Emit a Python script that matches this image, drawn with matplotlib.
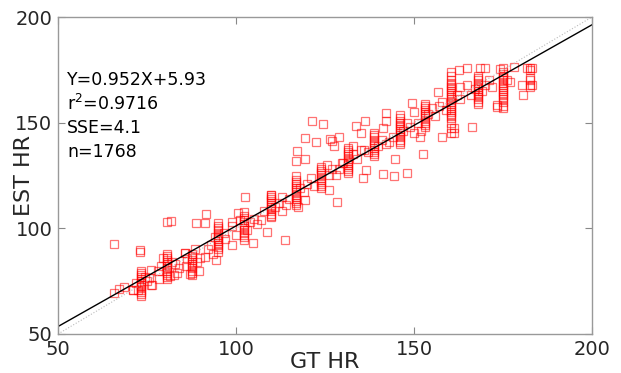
import matplotlib
matplotlib.use("Agg")
import matplotlib.pyplot as plt

# ---- data ----
stripe_gt = [73.3, 80.6, 87.6, 95.0, 102.2, 109.8, 116.9, 124.0,
             131.5, 138.7, 146.0, 153.0, 160.5, 168.0, 175.0, 182.5]
stripe_est = [
    [68, 69, 70, 71, 72, 72.5, 73, 74, 75, 76, 77, 78, 79, 80],
    [76, 77, 78, 79, 80, 81, 82, 83, 84, 85, 86, 87, 88],
    [78, 79, 80, 81, 82, 83, 84, 85, 86, 87, 88],
    [89, 90, 91, 92, 93, 94, 95, 96, 97, 98, 99, 100, 101, 102.5],
    [94.5, 96, 97, 98, 99, 100, 101, 102, 103, 104, 105, 106, 107.5],
    [105.5, 106, 107, 108, 109, 110, 111, 112, 113, 114, 115, 116],
    [111, 112, 113, 114, 115, 116, 117, 118, 119, 120, 121, 122, 123, 124.8, 131.9],
    [119, 120, 121, 122, 123, 124, 125, 126, 127, 128, 129],
    [126, 127, 128, 129, 130, 131, 132, 133, 134, 135, 136, 137, 138],
    [134, 135, 136, 137, 138, 139, 140, 141, 142, 143, 144, 145],
    [140, 141, 142, 143, 144, 145, 146, 147, 148, 149, 150, 151, 152, 153.5],
    [148, 149, 150, 151, 152, 153, 154, 155, 156, 157, 158, 159],
    [145, 147.5, 150, 152, 153, 154, 155, 156, 157, 158, 159, 160, 161, 162,
     163, 164, 165, 166, 167, 168, 169, 170, 172, 174],
    [159, 160, 161, 162, 163, 164, 165, 166, 167, 168, 169, 170, 171, 172],
    [157, 158, 160, 161, 162, 163, 164, 165, 166, 167, 168, 169, 170, 171,
     172, 173, 174, 176],
    [167, 168, 170, 171, 175, 176],
]

spread_gt = [71, 72, 75, 76, 76.4, 74.5, 72.5, 75.5, 76.1,
             78, 79, 82, 83, 84, 82.5, 79.5, 83.5, 78.5, 81.5,
             85.7, 86.2, 87.1, 89, 90, 88.5, 86, 89.5,
             93, 94, 96.5, 97, 93.5, 94.4, 91.3, 92, 98.9,
             100, 101, 104, 104.8, 103, 99, 105, 100.6, 98.9,
             107, 108, 111, 112, 108.7, 106, 113, 113.8,
             115, 118, 119, 114, 119.4, 120, 113, 117.5, 117, 119.5,
             122, 126, 127, 121, 125.5, 128.4, 126,
             129, 130, 133, 134, 129.8, 132.9, 128, 135,
             137, 140, 141, 136, 142, 135.7, 136.5, 141.3,
             144, 147, 148, 143, 149, 144.7, 144.4, 148, 150,
             151, 154, 155, 152, 156, 150, 152.5, 151.7, 157.9,
             158, 159, 162, 163, 157, 161.2, 161.2, 156.7, 163,
             166, 167, 170, 169, 166.3, 171, 165,
             173.3, 173.3, 177, 174.2, 172, 176,
             180.3, 183.1, 180.6, 181.7, 183.1, 178.1]
spread_est = [70.8, 74, 75, 73, 73.2, 77, 71, 76.5, 80.3,
              80, 82, 84, 83, 81, 78, 86, 79, 76, 77.5,
              88.3, 85.5, 78.4, 84, 86, 90, 82, 80,
              92, 96, 98, 95, 88, 85, 86.4, 90, 92.1,
              97, 104, 103, 93, 99, 101, 104.5, 107.3, 103,
              104, 108, 110, 112, 98.3, 102, 108, 94.5,
              114, 119, 117, 111, 113.4, 121, 115, 110, 136.6, 132.8,
              120, 125, 128, 124, 130, 112.5, 118,
              128, 131, 135, 133, 130.9, 139, 125, 137,
              136, 139, 142, 137, 140, 123.8, 127.6, 125.7,
              143, 146, 150, 141, 148, 132.8, 124.8, 126.2, 145,
              150, 154, 157, 146, 153, 155, 135.2, 143.2, 143.2,
              160, 156, 163, 161, 158, 147.5, 145.1, 164.5, 167,
              163, 166, 168, 165, 148, 170, 168,
              158.4, 157.4, 169.3, 175.4, 167, 170,
              167.8, 167.8, 163, 175.9, 175.9, 176.4]

outlier_gt = [65.7, 73.0, 73.0, 80.6, 81.7, 88.8, 91.3, 91.6, 102.5, 109.8,
              121.3, 124.4, 119.4, 122.5, 126.4, 127.0, 127.5, 128.9,
              133.7, 135.1, 136.2, 142.1, 142.1, 141.3, 149.4, 164.9,
              162.6, 168.5, 169.9, 65.7, 67.1, 68.5, 71.0, 85.7]
outlier_est = [92.6, 89.8, 88.8, 103.0, 103.5, 102.5, 102.5, 106.8, 114.8, 115.8,
               150.8, 149.4, 142.8, 140.9, 142.3, 141.3, 139.0, 143.2,
               148.4, 145.1, 150.8, 154.6, 150.8, 147.5, 159.3, 175.9,
               174.9, 175.9, 175.9, 69.4, 71.3, 72.2, 70.8, 88.3]

fit_slope, fit_intercept = 0.952, 5.93
axis_min, axis_max = 50, 200
ticks = [50, 100, 150, 200]
stats_text = ["Y=0.952X+5.93", "r$^2$=0.9716", "SSE=4.1", "n=1768"]

# ---- assemble points ----
gt_hr, est_hr = [], []
for g, ys in zip(stripe_gt, stripe_est):
    gt_hr += [g] * len(ys)
    est_hr += ys
gt_hr += spread_gt + outlier_gt
est_hr += spread_est + outlier_est

plt.rcParams['font.family'] = ['DejaVu Sans']
fig = plt.figure(figsize=(6.21, 3.73), dpi=100)
ax = fig.add_axes([0.0934, 0.1046, 0.8599, 0.8498])

ax.plot(gt_hr, est_hr, linestyle='none', marker='s', markersize=5.5,
        markerfacecolor='none', markeredgecolor=(1, 0, 0, 0.55),
        markeredgewidth=0.9)

xs = [axis_min, axis_max]
ax.plot(xs, xs, linestyle=':', color='#bbbbbb', linewidth=0.8)
ax.plot(xs, [fit_slope * x + fit_intercept for x in xs], color='black', linewidth=1.0)

ax.set_xlim(axis_min, axis_max)
ax.set_ylim(axis_min, axis_max)
ax.set_xticks(ticks)
ax.set_yticks(ticks)
ax.tick_params(direction='in', length=5, width=0.8, color='#888888',
               labelsize=14, labelcolor='#262626', top=True, right=True, pad=4)

for s in ax.spines.values():
    s.set_color('#999999')
    s.set_linewidth(1.0)

ax.set_xlabel('GT HR', fontsize=16, color='#262626', va='center')
ax.xaxis.set_label_coords(0.5, -0.087)
ax.set_ylabel('EST HR', fontsize=16, color='#262626', va='center')
ax.yaxis.set_label_coords(-0.063, 0.5)

for i, t in enumerate(stats_text):
    ax.text(0.017, 0.8 - i * 0.0755, t, transform=ax.transAxes, fontsize=12.5,
            color='black', va='center', ha='left')

fig.savefig('out.png', dpi=100)
